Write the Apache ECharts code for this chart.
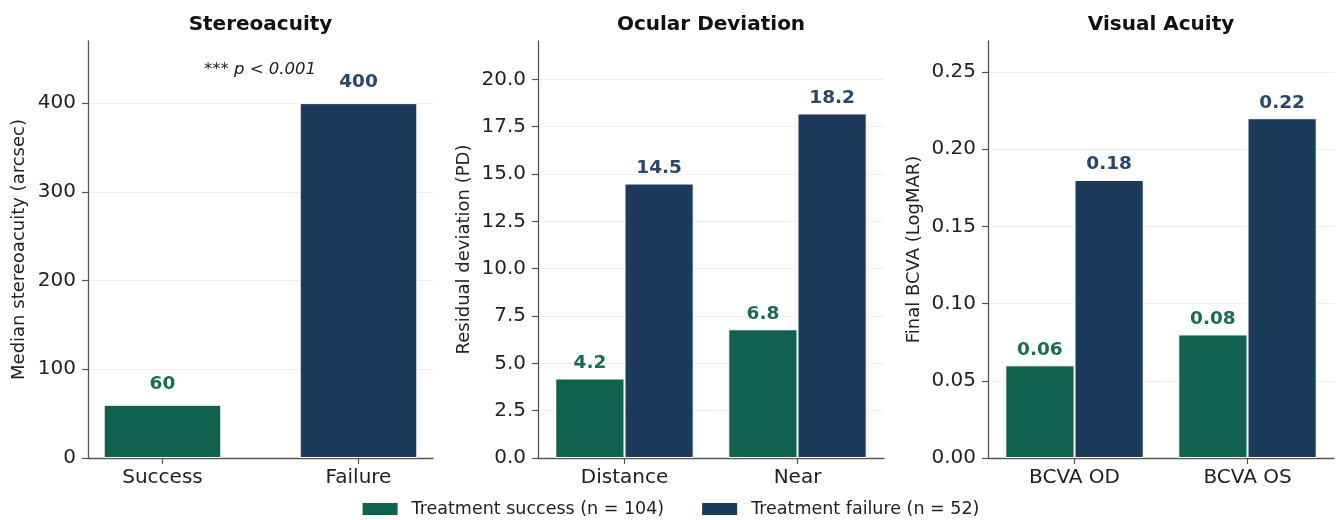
<!DOCTYPE html>
<html>
<head>
<meta charset="utf-8">
<script src="https://cdn.jsdelivr.net/npm/echarts@6/dist/echarts.min.js"></script>
<style>
  html, body { margin: 0; padding: 0; background: #ffffff; }
  #chart { width: 1340px; height: 520px; }
</style>
</head>
<body>
<div id="chart"></div>
<script>
// ---- data ----
const groupNames = ['Treatment success (n = 104)', 'Treatment failure (n = 52)'];

const stereoCategories = ['Success', 'Failure'];
const stereoMedian = [60, 400];
const stereoTicks = [0, 100, 200, 300, 400];

const deviationCategories = ['Distance', 'Near'];
const deviationSuccess = [4.2, 6.8];
const deviationFailure = [14.5, 18.2];
const deviationTicks = [0, 2.5, 5, 7.5, 10, 12.5, 15, 17.5, 20];

const acuityCategories = ['BCVA OD', 'BCVA OS'];
const acuitySuccess = [0.06, 0.08];
const acuityFailure = [0.18, 0.22];
const acuityTicks = [0, 0.05, 0.1, 0.15, 0.2, 0.25];

// ---- styling ----
const FONT = 'DejaVu Sans';
const GREEN = '#11614f';
const BLUE = '#1b3a5c';
const GREEN_TXT = '#1a6b58';
const BLUE_TXT = '#274668';
const AXIS = '#555555';
const TEXT = '#222222';
const GRIDLINE = '#efefef';

const panels = [
  { left: 88, width: 345 },
  { left: 538, width: 346 },
  { left: 988, width: 346 }
];
const TOP = 41, HEIGHT = 417;

const chart = echarts.init(document.getElementById('chart'), null, { renderer: 'canvas' });

function yAxisFor(idx, max, ticks, fmt, name, gap) {
  return {
    type: 'value', gridIndex: idx, min: 0, max: max,
    name: name, nameLocation: 'middle', nameGap: gap,
    nameTextStyle: { fontFamily: FONT, fontSize: 18, color: TEXT },
    axisLine: { show: true, onZero: false, lineStyle: { color: AXIS, width: 1.3 } },
    axisTick: { show: true, length: 6, customValues: ticks, lineStyle: { color: AXIS, width: 1.2 } },
    axisLabel: { customValues: ticks, formatter: fmt, fontFamily: FONT, fontSize: 20, color: TEXT, margin: 12 },
    splitLine: { show: true, lineStyle: { color: GRIDLINE, width: 1 } }
  };
}

function catAxisFor(idx, cats) {
  return {
    type: 'category', gridIndex: idx, data: cats, boundaryGap: true,
    axisLine: { show: true, onZero: false, lineStyle: { color: AXIS, width: 1.3 } },
    axisTick: { show: true, alignWithLabel: true, length: 6, lineStyle: { color: AXIS, width: 1.2 } },
    axisLabel: { fontFamily: FONT, fontSize: 20, color: TEXT, margin: 10 },
    splitLine: { show: false }
  };
}

const barLabel = (color, fmt, dist) => ({
  show: true, position: 'top', distance: dist,
  fontFamily: FONT, fontWeight: 'bold', fontSize: 18.5, color: color,
  formatter: fmt
});

const option = {
  backgroundColor: '#ffffff',
  animation: false,
  textStyle: { fontFamily: FONT },
  grid: panels.map(p => ({ left: p.left, top: TOP, width: p.width, height: HEIGHT, outerBoundsMode: 'none' })),
  xAxis: [
    {
      type: 'value', gridIndex: 0, min: -0.38, max: 1.38,
      axisLine: { show: true, onZero: false, lineStyle: { color: AXIS, width: 1.3 } },
      axisTick: { show: true, length: 6, customValues: [0, 1], lineStyle: { color: AXIS, width: 1.2 } },
      axisLabel: { customValues: [0, 1], formatter: v => stereoCategories[Math.round(v)], fontFamily: FONT, fontSize: 20, color: TEXT, margin: 10 },
      splitLine: { show: false }
    },
    catAxisFor(1, deviationCategories),
    catAxisFor(2, acuityCategories)
  ],
  yAxis: [
    yAxisFor(0, 470, stereoTicks, v => String(v), 'Median stereoacuity (arcsec)', 60),
    yAxisFor(1, 22.03, deviationTicks, v => v.toFixed(1), 'Residual deviation (PD)', 65),
    yAxisFor(2, 0.27, acuityTicks, v => v.toFixed(2), 'Final BCVA (LogMAR)', 65)
  ],
  legend: {
    data: groupNames,
    left: 'center', top: 495,
    icon: 'rect', itemWidth: 37, itemHeight: 14, itemGap: 36,
    textStyle: { fontFamily: FONT, fontSize: 17.5, color: TEXT, padding: [0, 0, 0, 8] }
  },
  graphic: [
    { type: 'text', style: { text: 'Stereoacuity', x: 260.5, y: 24.5, align: 'center', verticalAlign: 'middle', font: 'bold 20px "DejaVu Sans"', fill: '#111' } },
    { type: 'text', style: { text: 'Ocular Deviation', x: 711, y: 24.5, align: 'center', verticalAlign: 'middle', font: 'bold 20px "DejaVu Sans"', fill: '#111' } },
    { type: 'text', style: { text: 'Visual Acuity', x: 1161, y: 24.5, align: 'center', verticalAlign: 'middle', font: 'bold 20px "DejaVu Sans"', fill: '#111' } },
    { type: 'text', style: { text: '*** p < 0.001', x: 260, y: 70, align: 'center', verticalAlign: 'middle', font: 'italic 16.5px "DejaVu Sans"', fill: TEXT } }
  ],
  series: [
    {
      name: 'Stereoacuity', type: 'bar', xAxisIndex: 0, yAxisIndex: 0,
      barWidth: '60%',
      itemStyle: { borderColor: '#ffffff', borderWidth: 1 },
      data: stereoMedian.map((v, i) => ({
        value: [i, v],
        itemStyle: { color: i === 0 ? GREEN : BLUE },
        label: { color: i === 0 ? GREEN_TXT : BLUE_TXT }
      })),
      label: barLabel(TEXT, p => String(p.value[1]), 11)
    },
    {
      name: groupNames[0], type: 'bar', xAxisIndex: 1, yAxisIndex: 1,
      barWidth: '40%', barGap: '0%',
      itemStyle: { color: GREEN, borderColor: '#ffffff', borderWidth: 1 },
      data: deviationSuccess,
      label: barLabel(GREEN_TXT, p => p.value.toFixed(1), 6)
    },
    {
      name: groupNames[1], type: 'bar', xAxisIndex: 1, yAxisIndex: 1,
      barWidth: '40%', barGap: '0%',
      itemStyle: { color: BLUE, borderColor: '#ffffff', borderWidth: 1 },
      data: deviationFailure,
      label: barLabel(BLUE_TXT, p => p.value.toFixed(1), 6)
    },
    {
      name: groupNames[0], type: 'bar', xAxisIndex: 2, yAxisIndex: 2,
      barWidth: '40%', barGap: '0%',
      itemStyle: { color: GREEN, borderColor: '#ffffff', borderWidth: 1 },
      data: acuitySuccess,
      label: barLabel(GREEN_TXT, p => p.value.toFixed(2), 6)
    },
    {
      name: groupNames[1], type: 'bar', xAxisIndex: 2, yAxisIndex: 2,
      barWidth: '40%', barGap: '0%',
      itemStyle: { color: BLUE, borderColor: '#ffffff', borderWidth: 1 },
      data: acuityFailure,
      label: barLabel(BLUE_TXT, p => p.value.toFixed(2), 6)
    }
  ]
};

chart.setOption(option);
</script>
</body>
</html>
